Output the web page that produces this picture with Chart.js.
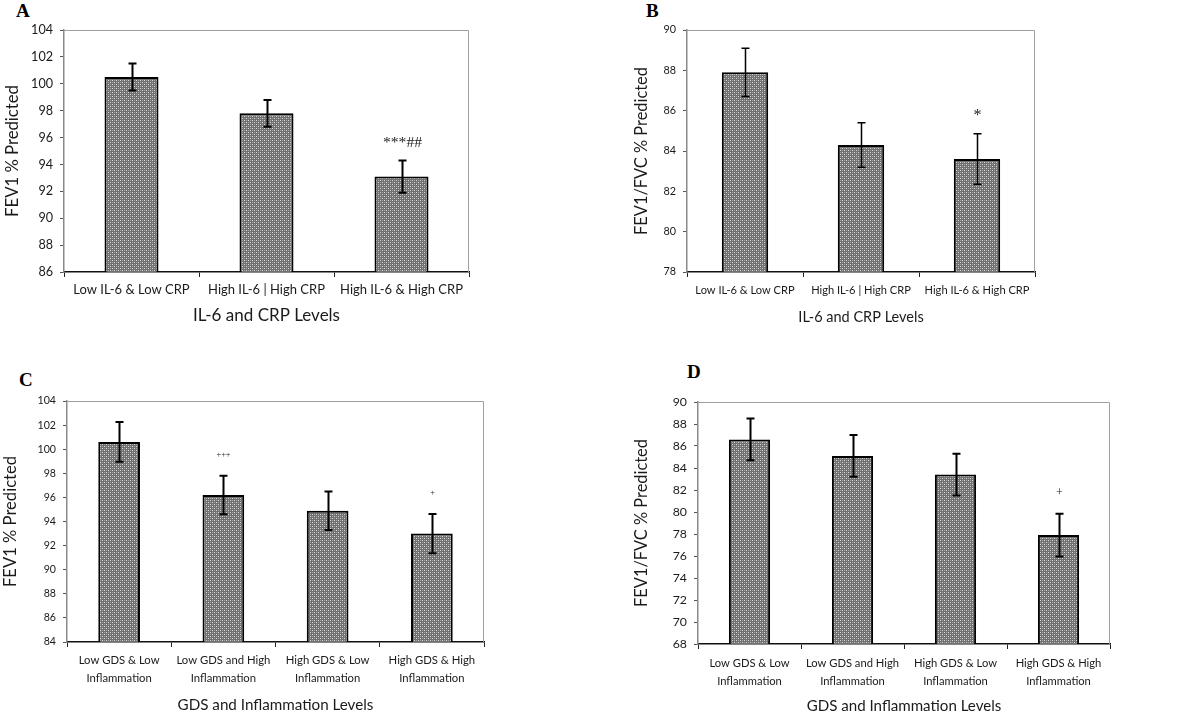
<!DOCTYPE html>
<html>
<head>
<meta charset="utf-8">
<script src="https://cdn.jsdelivr.net/npm/chart.js@4.4.1/dist/chart.umd.min.js"></script>
<style>
  html, body { margin: 0; padding: 0; background: #fff; overflow: hidden; }
  #wrap { position: relative; width: 1200px; height: 715px; }
  canvas { position: absolute; }
  .letter { position: absolute; font-family: "Liberation Serif", serif; font-weight: bold; font-size: 19px; color: #000; }
</style>
</head>
<body>
<div id="wrap">
  <div class="letter" style="left:16px;top:0px;">A</div>
  <div class="letter" style="left:646px;top:0px;">B</div>
  <div class="letter" style="left:19px;top:369px;">C</div>
  <div class="letter" style="left:687px;top:361px;">D</div>
  <canvas id="chartA" width="590" height="330" style="left:0;top:0;"></canvas>
  <canvas id="chartB" width="610" height="330" style="left:590px;top:0;"></canvas>
  <canvas id="chartC" width="590" height="385" style="left:0;top:330px;"></canvas>
  <canvas id="chartD" width="610" height="385" style="left:590px;top:330px;"></canvas>
</div>
<script>
// ---- data ----
const crpLevels = ['Low IL-6 & Low CRP', 'High IL-6 | High CRP', 'High IL-6 & High CRP'];
const gdsLevels = [['Low GDS & Low', 'Inflammation'], ['Low GDS and High', 'Inflammation'],
                   ['High GDS & Low', 'Inflammation'], ['High GDS & High', 'Inflammation']];

const fev1ByCrp = [100.5, 97.8, 93.1];
const fev1ByCrpErr = [1.0, 1.0, 1.2];
const fev1ByCrpSig = ['', '', '***##'];

const ratioByCrp = [87.9, 84.3, 83.6];
const ratioByCrpErr = [1.2, 1.1, 1.25];
const ratioByCrpSig = ['', '', '*'];

const fev1ByGds = [100.6, 96.2, 94.9, 93.0];
const fev1ByGdsErr = [1.65, 1.6, 1.6, 1.63];
const fev1ByGdsSig = ['', '+++', '', '+'];

const ratioByGds = [86.6, 85.1, 83.4, 77.9];
const ratioByGdsErr = [1.9, 1.9, 1.9, 1.95];
const ratioByGdsSig = ['', '', '', '+'];

const ticksA = [86, 88, 90, 92, 94, 96, 98, 100, 102, 104];
const ticksB = [78, 80, 82, 84, 86, 88, 90];
const ticksC = [84, 86, 88, 90, 92, 94, 96, 98, 100, 102, 104];
const ticksD = [68, 70, 72, 74, 76, 78, 80, 82, 84, 86, 88, 90];

const FONT = 'Lato, "Liberation Sans", sans-serif';
const TEXT = '#1a1a1a';

// pick a font size so that `text` is about `target` px wide (the original is Calibri, which is narrower)
const measureCtx = document.createElement('canvas').getContext('2d');
function fit(text, target, family) {
    measureCtx.font = '100px ' + (family || FONT);
    const w = measureCtx.measureText(text).width;
    return Math.round(100 * target / w * 10) / 10;
}

// stippled grey fill like the original
function makeStipple() {
    const c = document.createElement('canvas');
    c.width = 4; c.height = 4;
    const g = c.getContext('2d');
    g.fillStyle = '#707070';
    g.fillRect(0, 0, 4, 4);
    g.fillStyle = '#d8d8d8';
    g.fillRect(0, 0, 1, 1);
    g.fillRect(2, 2, 1, 1);
    g.fillStyle = '#a4a4a4';
    g.fillRect(2, 0, 1, 1);
    g.fillRect(0, 2, 1, 1);
    return g.createPattern(c, 'repeat');
}

const errorBarPlugin = {
    id: 'errorBars',
    afterDatasetsDraw(chart, args, opts) {
        const ctx = chart.ctx;
        const meta = chart.getDatasetMeta(0);
        const ys = chart.scales.y;
        const vals = chart.data.datasets[0].data;
        ctx.save();
        // grey frame on top/right of plot area
        const a = chart.chartArea;
        ctx.strokeStyle = '#a0a0a0';
        ctx.lineWidth = 1;
        ctx.beginPath();
        ctx.moveTo(a.left, a.top + 0.5);
        ctx.lineTo(a.right - 0.5, a.top + 0.5);
        ctx.lineTo(a.right - 0.5, a.bottom);
        ctx.stroke();

        meta.data.forEach((bar, i) => {
            const v = vals[i], e = opts.err[i];
            const yTop = ys.getPixelForValue(v + e);
            const yBot = ys.getPixelForValue(v - e);
            const x = Math.round(bar.x) + 0.5;
            ctx.strokeStyle = '#000';
            ctx.lineWidth = opts.width;
            ctx.beginPath();
            ctx.moveTo(x, yTop); ctx.lineTo(x, yBot);
            ctx.moveTo(x - opts.cap, yTop); ctx.lineTo(x + opts.cap, yTop);
            ctx.moveTo(x - opts.cap, yBot); ctx.lineTo(x + opts.cap, yBot);
            ctx.stroke();
            if (opts.sig[i]) {
                ctx.fillStyle = TEXT;
                ctx.font = opts.sigFont;
                ctx.textAlign = 'center';
                ctx.textBaseline = 'middle';
                ctx.fillText(opts.sig[i], x, yTop - opts.sigGap);
            }
        });
        ctx.restore();
    }
};

function makePanel(id, p) {
    const el = document.getElementById(id);
    if (!el) return;
    new Chart(el, {
        type: 'bar',
        data: {
            labels: p.labels,
            datasets: [{
                data: p.values,
                backgroundColor: makeStipple(),
                borderColor: '#000',
                borderWidth: 2,
                borderSkipped: 'bottom',
                categoryPercentage: 1,
                barPercentage: 0.4
            }]
        },
        plugins: [errorBarPlugin],
        options: {
            responsive: false,
            animation: false,
            layout: { padding: { left: p.padLeft, right: p.padRight, top: p.padTop, bottom: 0 } },
            plugins: {
                legend: { display: false },
                tooltip: { enabled: false },
                errorBars: { err: p.err, sig: p.sig, width: p.errWidth, cap: 4, sigGap: p.sigGap, sigFont: p.sigFont }
            },
            scales: {
                x: {
                    afterFit(s) { s.height = p.xHeight; },
                    grid: { drawOnChartArea: false, tickLength: 5, color: '#222', offset: true },
                    border: { color: '#111', width: 1.5 },
                    ticks: { color: TEXT, font: { family: FONT, size: p.xTickSize, lineHeight: p.xTickLine || 1.2 },
                             padding: p.xTickPad, maxRotation: 0, autoSkip: false },
                    title: {
                        display: true, text: p.xTitle, color: TEXT,
                        font: { family: FONT, size: p.xTitleSize }, padding: { top: 0, bottom: p.xTitlePad }
                    }
                },
                y: {
                    min: p.ticks[0],
                    max: p.ticks[p.ticks.length - 1],
                    afterFit(s) { s.width = p.yWidth; },
                    afterBuildTicks(s) { s.ticks = p.ticks.map(v => ({ value: v })); },
                    grid: { drawOnChartArea: false, tickLength: 4, color: '#555' },
                    border: { color: '#8a8a8a', width: 1.5 },
                    ticks: { color: TEXT, font: { family: FONT, size: p.yTickSize }, padding: 7 },
                    title: {
                        display: true, text: p.yTitle, color: TEXT,
                        font: { family: FONT, size: p.yTitleSize }, padding: { top: p.yTitlePad, bottom: 0 }
                    }
                }
            }
        }
    });
}

function initializeCharts() {
    const SERIF = '"Liberation Serif", serif';
    makePanel('chartA', {
        labels: crpLevels, values: fev1ByCrp, err: fev1ByCrpErr, sig: fev1ByCrpSig, ticks: ticksA,
        xTitle: 'IL-6 and CRP Levels', yTitle: 'FEV1 % Predicted',
        padLeft: 0, padRight: 121, padTop: 30, yWidth: 64, xHeight: 58,
        xTickSize: fit('Low IL-6 & Low CRP', 116), yTickSize: fit('104', 22),
        xTitleSize: fit('IL-6 and CRP Levels', 147), yTitleSize: fit('FEV1 % Predicted', 132), xTickPad: 5,
        yTitlePad: 3, xTitlePad: 4, errWidth: 2, sigGap: 18,
        sigFont: fit('***##', 39, SERIF) + 'px ' + SERIF
    });
    makePanel('chartB', {
        labels: crpLevels, values: ratioByCrp, err: ratioByCrpErr, sig: ratioByCrpSig, ticks: ticksB,
        xTitle: 'IL-6 and CRP Levels', yTitle: 'FEV1/FVC % Predicted',
        padLeft: 40, padRight: 165, padTop: 30, yWidth: 57, xHeight: 58,
        xTickSize: fit('Low IL-6 & Low CRP', 99), yTickSize: fit('90', 12.5),
        xTitleSize: fit('IL-6 and CRP Levels', 125), yTitleSize: fit('FEV1/FVC % Predicted', 168), xTickPad: 7,
        yTitlePad: 2, xTitlePad: 4, errWidth: 1.5, sigGap: 18, sigFont: '16px ' + SERIF
    });
    makePanel('chartC', {
        labels: gdsLevels, values: fev1ByGds, err: fev1ByGdsErr, sig: fev1ByGdsSig, ticks: ticksC,
        xTitle: 'GDS and Inflammation Levels', yTitle: 'FEV1 % Predicted',
        padLeft: 0, padRight: 106, padTop: 71, yWidth: 67, xHeight: 73,
        xTickSize: fit('Low GDS & Low', 81), yTickSize: fit('104', 18.5), xTickLine: 17.3 / fit('Low GDS & Low', 81),
        xTitleSize: fit('GDS and Inflammation Levels', 196), yTitleSize: fit('FEV1 % Predicted', 131), xTickPad: 5,
        yTitlePad: 1, xTitlePad: 1, errWidth: 2, sigGap: 21, sigFont: fit('+++', 14, SERIF) + 'px ' + SERIF
    });
    makePanel('chartD', {
        labels: gdsLevels, values: ratioByGds, err: ratioByGdsErr, sig: ratioByGdsSig, ticks: ticksD,
        xTitle: 'GDS and Inflammation Levels', yTitle: 'FEV1/FVC % Predicted',
        padLeft: 40, padRight: 90, padTop: 72, yWidth: 68, xHeight: 71,
        xTickSize: fit('Low GDS & Low', 80), yTickSize: fit('90', 14.3), xTickLine: 17.5 / fit('Low GDS & Low', 80),
        xTitleSize: fit('GDS and Inflammation Levels', 195), yTitleSize: fit('FEV1/FVC % Predicted', 168), xTickPad: 6,
        yTitlePad: 2, xTitlePad: 0, errWidth: 2, sigGap: 21, sigFont: '12px ' + SERIF
    });
}

if (document.readyState === 'loading') {
    document.addEventListener('DOMContentLoaded', initializeCharts);
} else {
    initializeCharts();
}
</script>
</body>
</html>
